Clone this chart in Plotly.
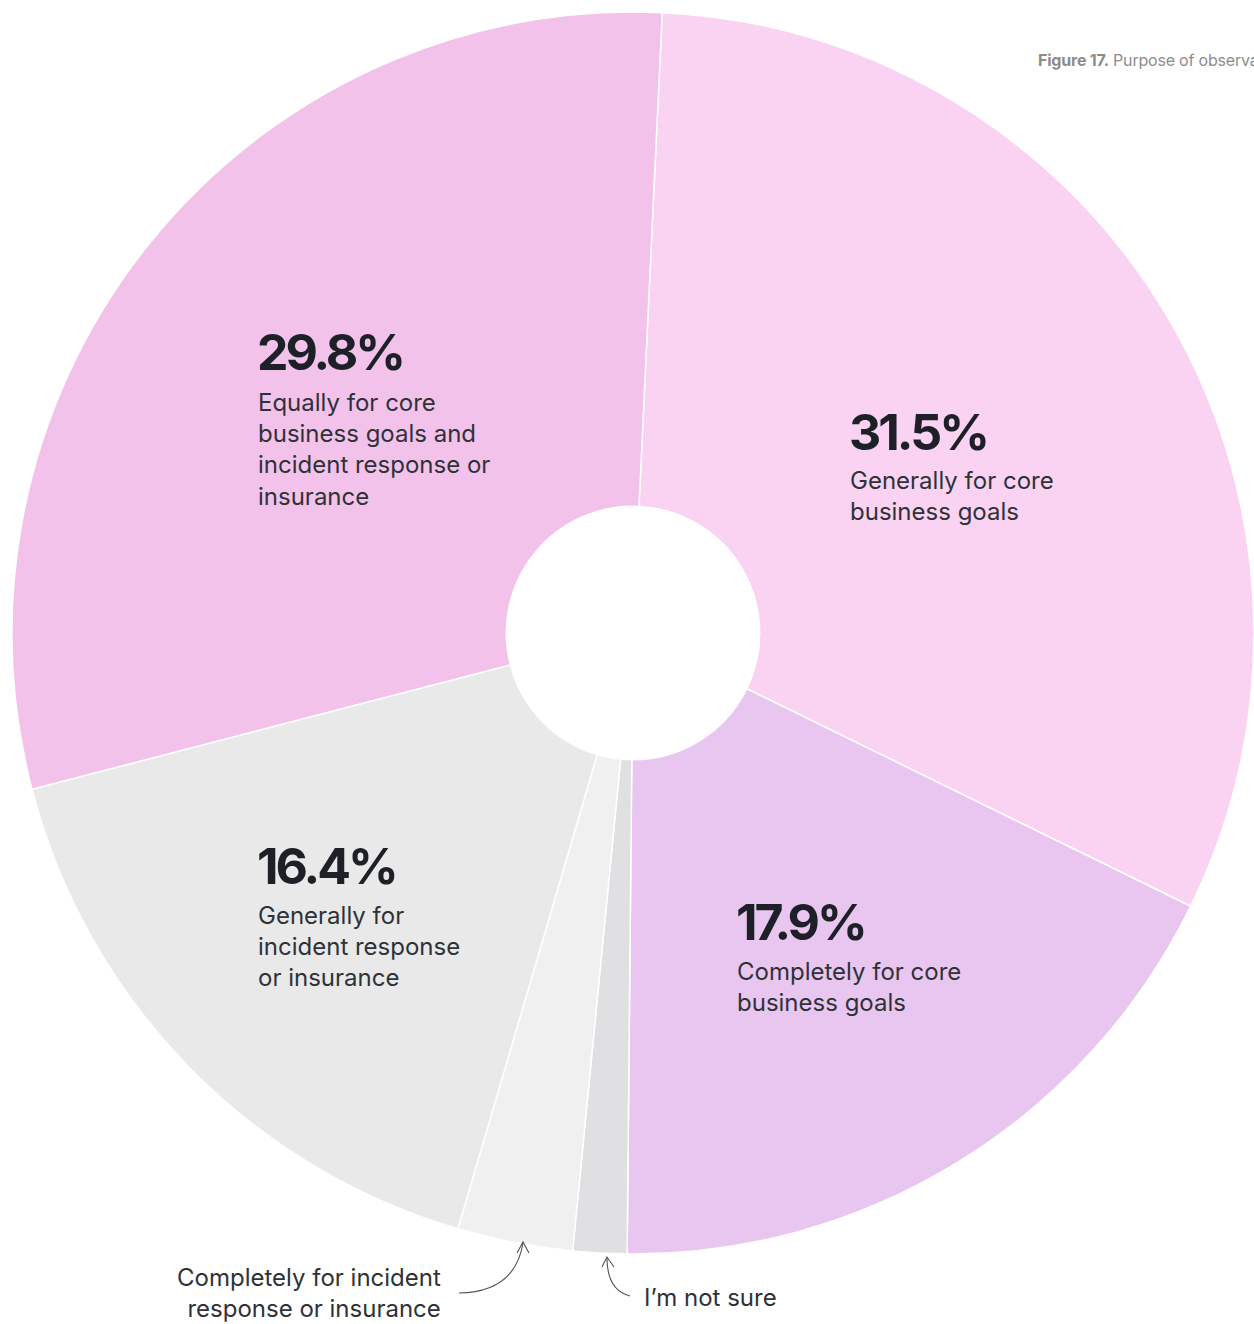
import plotly.graph_objects as go

# Survey shares, clockwise from 12 o'clock
categories = [
    "Generally for core business goals",
    "Completely for core business goals",
    "I’m not sure",
    "Completely for incident response or insurance",
    "Generally for incident response or insurance",
    "Equally for core business goals and incident response or insurance",
]
values = [31.5, 17.9, 1.4, 3.0, 16.4, 29.8]
slice_colors = ["#f9d3f1", "#e8c6f0", "#e0e0e2", "#f0f0f0", "#e9e9e9", "#f3c2eb"]

W, H = 1254, 1324
CX, CY, R = 633, 633, 621  # pie centre and radius in px


def px(x):
    return x / W


def py(y):
    return 1 - y / H


fig = go.Figure(
    go.Pie(
        labels=categories,
        values=values,
        sort=False,
        direction="clockwise",
        rotation=2.7,
        hole=0.204,
        textinfo="none",
        hoverinfo="label+percent",
        marker=dict(colors=slice_colors, line=dict(color="#ffffff", width=1.5)),
        domain=dict(x=[px(CX - R), px(CX + R)], y=[py(CY + R), py(CY - R)]),
        showlegend=False,
    )
)

DARK = "#1d2127"
BODY = "#2e3238"
FONT = "Inter, Roboto, sans-serif"

# (percent label, description, left x, percent centre y, description first-line centre y)
callouts = [
    ("31.5%", "Generally for core<br>business goals", 850, 432, 480),
    ("29.8%", "Equally for core<br>business goals and<br>incident response or<br>insurance", 258, 352, 402),
    ("16.4%", "Generally for<br>incident response<br>or insurance", 258, 866, 915),
    ("17.9%", "Completely for core<br>business goals", 737, 922, 971),
]

annotations = []
for pct, desc, x, y_pct, y_desc in callouts:
    annotations.append(dict(
        text=f'<span style="letter-spacing:-3px">{pct}</span>',
        x=px(x - 3), y=py(y_pct), xref="paper", yref="paper",
        xanchor="left", yanchor="middle", showarrow=False,
        font=dict(family=FONT, size=50, color=DARK, weight=700),
    ))
    annotations.append(dict(
        text=desc, x=px(x - 2), y=py(y_desc - 16), xref="paper", yref="paper",
        xanchor="left", yanchor="top", align="left", showarrow=False,
        font=dict(family=FONT, size=24, color=BODY),
    ))

# labels for the two small slices
annotations.append(dict(
    text="Completely for incident<br>response or insurance", x=px(443), y=py(1261),
    xref="paper", yref="paper", xanchor="right", yanchor="top", align="right",
    showarrow=False, font=dict(family=FONT, size=24, color=BODY),
))
annotations.append(dict(
    text="I’m not sure", x=px(642), y=py(1297), xref="paper", yref="paper",
    xanchor="left", yanchor="middle", showarrow=False,
    font=dict(family=FONT, size=24, color=BODY),
))

# figure caption, running off the right edge
annotations.append(dict(
    text='<span style="letter-spacing:-0.2px"><b>Figure 17.</b> Purpose of observability</span>',
    x=px(1036), y=py(60),
    xref="paper", yref="paper", xanchor="left", yanchor="middle", showarrow=False,
    font=dict(family=FONT, size=16, color="#8c8c8c"),
))


def path(points_px, cmd):
    out = []
    for c, pts in zip(cmd, points_px):
        coords = " ".join(f"{px(a):.5f},{py(b):.5f}" for a, b in pts)
        out.append(f"{c} {coords}")
    return " ".join(out)


arrow_style = dict(type="path", xref="paper", yref="paper",
                   line=dict(color="#50545a", width=1.1))
shapes = [
    # curved leader to the incident-response slice
    dict(path=path([[(459, 1293)], [(515, 1292), (523, 1243)]], ["M", "Q"]), **arrow_style),
    dict(path=path([[(517, 1253)], [(523, 1242)], [(529, 1253)]], ["M", "L", "L"]), **arrow_style),
    # curved leader to the not-sure slice
    dict(path=path([[(630, 1296)], [(607, 1290), (607, 1258)]], ["M", "Q"]), **arrow_style),
    dict(path=path([[(602, 1267)], [(607, 1257)], [(614, 1267)]], ["M", "L", "L"]), **arrow_style),
]

fig.update_layout(
    width=W, height=H,
    margin=dict(l=0, r=0, t=0, b=0),
    paper_bgcolor="#ffffff",
    plot_bgcolor="#ffffff",
    annotations=annotations,
    shapes=shapes,
)

fig.write_html("out.html")
